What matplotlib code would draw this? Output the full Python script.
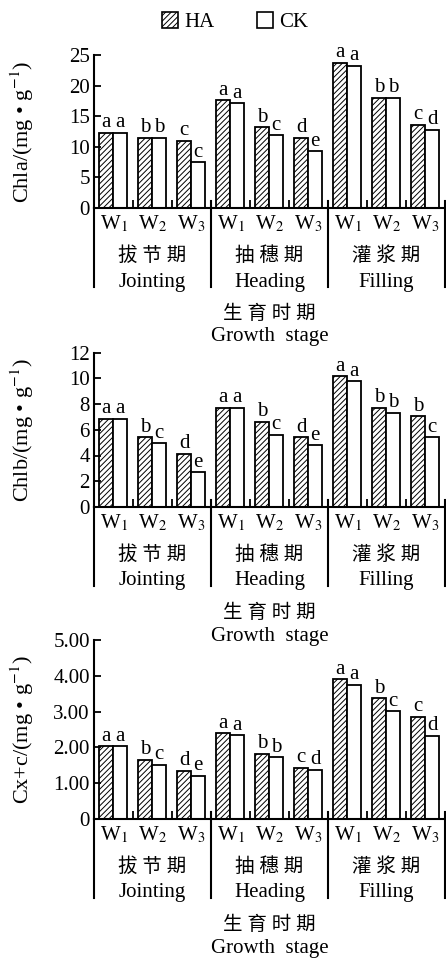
import matplotlib
matplotlib.use("Agg")
import matplotlib.pyplot as plt
from matplotlib.patches import Patch
import numpy as np

plt.rcParams['font.family'] = ['Liberation Serif', 'Noto Sans CJK SC']
plt.rcParams['mathtext.fontset'] = 'stix'
plt.rcParams['hatch.linewidth'] = 0.7

# categories
stages_cn = ['拔 节 期', '抽 穗 期', '灌 浆 期']
stages_en = ['Jointing', 'Heading', 'Filling']
water = ['W$_1$', 'W$_2$', 'W$_3$']

# Chla
chla_ha = [12.3, 11.5, 11.0, 17.6, 13.2, 11.5, 23.7, 18.0, 13.6]
chla_ck = [12.3, 11.5, 7.5, 17.1, 11.9, 9.3, 23.2, 18.0, 12.8]
chla_ha_sig = ['a', 'b', 'c', 'a', 'b', 'd', 'a', 'b', 'c']
chla_ck_sig = ['a', 'b', 'c', 'a', 'c', 'e', 'a', 'b', 'd']

# Chlb
chlb_ha = [6.85, 5.4, 4.15, 7.7, 6.6, 5.4, 10.15, 7.7, 7.05]
chlb_ck = [6.85, 4.95, 2.7, 7.7, 5.6, 4.8, 9.75, 7.3, 5.4]
chlb_ha_sig = ['a', 'b', 'd', 'a', 'b', 'd', 'a', 'b', 'b']
chlb_ck_sig = ['a', 'c', 'e', 'a', 'c', 'e', 'a', 'b', 'c']

# Cx+c
cxc_ha = [2.03, 1.66, 1.35, 2.40, 1.82, 1.43, 3.90, 3.37, 2.85]
cxc_ck = [2.03, 1.51, 1.21, 2.34, 1.73, 1.37, 3.75, 3.01, 2.33]
cxc_ha_sig = ['a', 'b', 'd', 'a', 'b', 'c', 'a', 'b', 'c']
cxc_ck_sig = ['a', 'c', 'e', 'a', 'b', 'd', 'a', 'c', 'd']

fig = plt.figure(figsize=(4.46, 9.6), dpi=100)
W, H = 446, 960
FS = 15


def make_panel(rect, ha, ck, ha_sig, ck_sig, ylabel, yticks, yticklabels):
    ax = fig.add_axes(rect)
    ax.set_facecolor('none')
    x = np.arange(len(ha))
    ax.bar(x - 0.19, ha, width=0.36, facecolor='white', edgecolor='black',
           hatch='//////', linewidth=1.3)
    ax.bar(x + 0.17, ck, width=0.36, facecolor='white', edgecolor='black',
           linewidth=1.3)
    for i in range(len(ha)):
        ax.annotate(ha_sig[i], (x[i] - 0.19, ha[i]), xytext=(0, 4),
                    textcoords='offset points', ha='center', va='baseline', fontsize=15)
        ax.annotate(ck_sig[i], (x[i] + 0.17, ck[i]), xytext=(0, 4),
                    textcoords='offset points', ha='center', va='baseline', fontsize=15)

    ax.set_xlim(-0.5, 8.5)
    ax.set_ylim(yticks[0], yticks[-1])
    ax.set_yticks(yticks)
    ax.set_yticklabels(yticklabels)
    ax.set_xticks(x)
    ax.set_xticklabels(water * 3)
    ax.set_xticks([0.5, 1.5, 3.5, 4.5, 6.5, 7.5], minor=True)
    ax.tick_params(axis='x', which='major', length=0, labelsize=FS, pad=4)
    ax.tick_params(axis='x', which='minor', direction='in', length=6, width=1.3)
    ax.tick_params(axis='y', direction='in', length=5, width=1.3, labelsize=FS, pad=3)
    for s in ['top', 'right']:
        ax.spines[s].set_visible(False)
    for s in ['left', 'bottom']:
        ax.spines[s].set_linewidth(1.5)

    ax.set_ylabel(ylabel, fontsize=16)
    ax.yaxis.set_label_coords(-0.165, 0.5)

    # group separators running below the axis
    h_px = rect[3] * H
    for xs in [-0.5, 2.5, 5.5, 8.5]:
        top = 0 if xs == -0.5 else 7 / h_px
        ax.plot([xs, xs], [top, -79 / h_px], color='black', lw=1.5,
                transform=ax.get_xaxis_transform(), clip_on=False)

    for g in range(3):
        ax.annotate(stages_cn[g], (3 * g + 1, 0), xycoords=('data', 'axes fraction'),
                    xytext=(0, -48 * 0.72), textcoords='offset points',
                    ha='center', va='center', fontsize=14)
        ax.annotate(stages_en[g], (3 * g + 1, 0), xycoords=('data', 'axes fraction'),
                    xytext=(0, -74 * 0.72), textcoords='offset points',
                    ha='center', va='center', fontsize=FS)
    ax.annotate('生 育 时 期', (0.5, 0), xycoords='axes fraction',
                xytext=(0, -106 * 0.72), textcoords='offset points',
                ha='center', va='center', fontsize=14)
    ax.annotate('Growth  stage', (0.5, 0), xycoords='axes fraction',
                xytext=(0, -129 * 0.72), textcoords='offset points',
                ha='center', va='center', fontsize=FS)
    return ax


left = 94 / W
width = 351 / W
make_panel([left, (H - 208) / H, width, 153 / H], chla_ha, chla_ck, chla_ha_sig, chla_ck_sig,
           'Chla/(mg • g$^{-1}$)', [0, 5, 10, 15, 20, 25], ['0', '5', '10', '15', '20', '25'])
make_panel([left, (H - 507) / H, width, 154.5 / H], chlb_ha, chlb_ck, chlb_ha_sig, chlb_ck_sig,
           'Chlb/(mg • g$^{-1}$)', [0, 2, 4, 6, 8, 10, 12], ['0', '2', '4', '6', '8', '10', '12'])
make_panel([left, (H - 819) / H, width, 179 / H], cxc_ha, cxc_ck, cxc_ha_sig, cxc_ck_sig,
           'Cx+c/(mg • g$^{-1}$)', [0, 1, 2, 3, 4, 5], ['0', '1.00', '2.00', '3.00', '4.00', '5.00'])

handles = [Patch(facecolor='white', edgecolor='black', hatch='//////', linewidth=1.2),
           Patch(facecolor='white', edgecolor='black', linewidth=1.2)]
fig.legend(handles, ['HA', 'CK'], loc='center', bbox_to_anchor=(0.527, 0.977), ncol=2,
           frameon=False, fontsize=FS, handlelength=0.8, handleheight=0.8,
           handletextpad=0.3, columnspacing=2.0)

fig.savefig('out.png', dpi=100)
